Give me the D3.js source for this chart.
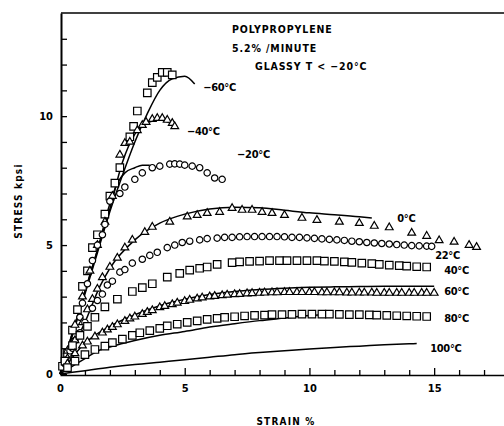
<!DOCTYPE html>
<html>
<head>
<meta charset="utf-8">
<script src="https://cdn.jsdelivr.net/npm/d3@7/dist/d3.min.js"></script>
<style>
  html, body { margin: 0; padding: 0; background: #fff; }
  svg { display: block; }
  text { font-family: "Liberation Sans Narrow", "DejaVu Sans Condensed", "Liberation Sans", sans-serif; font-weight: bold; fill: #000; }
</style>
</head>
<body>
<svg id="chart" width="504" height="426"></svg>
<script>
// Stress–strain data for polypropylene at 5.2 %/min, strain in %, stress in kpsi.

// Measured points, one array per test temperature
const pts_m60 = [[0.1,0.3],[0.3,0.8],[0.5,1.7],[0.7,2.5],[0.9,3.4],[1.1,4.0],[1.3,4.9],[1.5,5.4],[1.8,6.2],[2.0,6.9],[2.2,7.4],[2.4,8.0],[2.8,9.2],[2.95,9.6],[3.1,10.2],[3.5,10.9],[3.7,11.3],[3.9,11.5],[4.1,11.7],[4.3,11.7],[4.5,11.6]];
const pts_m40 = [[0.3,0.9],[0.6,1.9],[0.9,3.0],[1.2,4.0],[1.5,5.0],[1.8,5.9],[2.1,6.9],[2.4,8.5],[2.6,8.95],[2.8,9.0],[3.1,9.45],[3.3,9.65],[3.45,9.77],[3.7,9.88],[3.9,9.92],[4.1,9.92],[4.3,9.85],[4.5,9.73],[4.6,9.6]];
const pts_m20 = [[0.2,0.4],[0.4,0.9],[0.6,1.3],[0.8,2.2],[0.9,2.75],[1.1,3.5],[1.3,4.4],[1.5,5.0],[1.7,5.4],[1.8,5.8],[2.0,6.7],[2.4,7.0],[2.6,7.25],[3.0,7.55],[3.3,7.8],[3.7,8.0],[4.0,8.06],[4.4,8.14],[4.6,8.15],[4.8,8.14],[5.0,8.1],[5.3,8.06],[5.6,8.0],[5.9,7.8],[6.2,7.6],[6.5,7.55]];
const pts_0 = [[0.3,0.6],[0.6,1.3],[0.9,2.0],[1.1,2.5],[1.3,2.9],[1.5,3.3],[1.7,3.75],[2.0,4.15],[2.3,4.5],[2.6,4.9],[2.9,5.2],[3.4,5.5],[3.7,5.7],[4.4,5.9],[5.1,6.1],[5.5,6.16],[5.9,6.24],[6.4,6.28],[6.9,6.43],[7.3,6.36],[7.7,6.36],[8.1,6.28],[8.5,6.24],[9.0,6.16],[9.7,6.05],[10.3,5.97],[11.2,5.9],[12.0,5.85],[12.6,5.74],[13.2,5.68],[14.1,5.47],[14.7,5.35],[15.2,5.18],[15.8,5.12],[16.4,5.0],[16.7,4.92]];
const pts_22 = [[0.2,0.4],[0.5,1.0],[0.8,1.6],[1.0,2.0],[1.3,2.55],[1.5,2.85],[1.7,3.1],[1.9,3.45],[2.1,3.6],[2.4,3.95],[2.6,4.05],[2.9,4.3],[3.3,4.45],[3.6,4.6],[3.9,4.72],[4.3,4.9],[4.6,5.0],[4.9,5.1],[5.2,5.15],[5.6,5.2],[5.9,5.25],[6.3,5.27],[6.6,5.3],[6.9,5.3],[7.2,5.32],[7.5,5.33],[7.8,5.33],[8.1,5.33],[8.4,5.33],[8.7,5.33],[9.0,5.32],[9.3,5.3],[9.6,5.3],[9.9,5.28],[10.2,5.26],[10.5,5.24],[10.8,5.22],[11.1,5.2],[11.4,5.18],[11.7,5.15],[12.0,5.13],[12.3,5.1],[12.6,5.08],[12.9,5.06],[13.2,5.04],[13.5,5.02],[13.8,5.0],[14.1,4.98],[14.4,4.97],[14.7,4.96],[14.9,4.95]];
const pts_40 = [[0.2,0.5],[0.5,1.1],[0.8,1.5],[1.1,1.85],[1.4,2.2],[1.8,2.6],[2.3,2.9],[2.9,3.2],[3.3,3.35],[3.7,3.5],[4.3,3.76],[4.8,3.9],[5.2,4.03],[5.6,4.1],[5.9,4.15],[6.3,4.25],[6.9,4.32],[7.2,4.35],[7.6,4.37],[8.0,4.38],[8.4,4.4],[8.8,4.4],[9.1,4.4],[9.5,4.4],[9.9,4.4],[10.3,4.4],[10.6,4.38],[11.0,4.37],[11.4,4.35],[11.7,4.33],[12.1,4.3],[12.5,4.28],[12.8,4.25],[13.2,4.22],[13.6,4.2],[13.9,4.18],[14.3,4.16],[14.7,4.15]];
const pts_60 = [[0.3,0.4],[0.6,0.8],[0.9,1.1],[1.1,1.25],[1.4,1.45],[1.7,1.6],[1.9,1.72],[2.1,1.82],[2.3,1.92],[2.6,2.05],[2.8,2.15],[3.0,2.22],[3.3,2.32],[3.5,2.4],[3.7,2.47],[4.0,2.58],[4.2,2.63],[4.5,2.7],[4.7,2.76],[5.0,2.82],[5.2,2.87],[5.5,2.92],[5.7,2.96],[6.0,3.0],[6.2,3.02],[6.5,3.05],[6.7,3.07],[7.0,3.09],[7.2,3.1],[7.5,3.12],[7.7,3.13],[8.0,3.14],[8.2,3.15],[8.5,3.16],[8.7,3.16],[9.0,3.17],[9.2,3.17],[9.5,3.17],[9.7,3.17],[10.0,3.17],[10.2,3.17],[10.5,3.16],[10.7,3.16],[11.0,3.16],[11.2,3.16],[11.5,3.15],[11.7,3.15],[12.0,3.15],[12.2,3.15],[12.5,3.15],[12.7,3.14],[13.0,3.14],[13.2,3.14],[13.5,3.14],[13.7,3.14],[14.0,3.14],[14.2,3.14],[14.5,3.14],[14.7,3.14],[15.0,3.14]];
const pts_80 = [[0.3,0.25],[0.6,0.5],[1.0,0.75],[1.4,0.95],[1.8,1.08],[2.1,1.22],[2.5,1.35],[2.9,1.5],[3.2,1.6],[3.6,1.68],[4.0,1.77],[4.3,1.87],[4.7,1.93],[5.1,2.0],[5.5,2.06],[5.9,2.12],[6.3,2.16],[6.6,2.2],[7.0,2.22],[7.4,2.25],[7.8,2.27],[8.2,2.28],[8.5,2.3],[8.9,2.3],[9.3,2.31],[9.7,2.32],[10.1,2.32],[10.5,2.32],[10.8,2.32],[11.2,2.31],[11.6,2.3],[12.0,2.3],[12.4,2.29],[12.7,2.28],[13.1,2.27],[13.5,2.26],[13.9,2.25],[14.3,2.24],[14.7,2.23]];

// Model curves
const fit_m60 = [[0,0],[0.5,1.5],[1,3.1],[1.5,4.7],[2,6.3],[2.5,7.7],[3,9.0],[3.5,10.1],[4,11.0],[4.5,11.45],[5,11.55],[5.4,11.25]];
const fit_m40 = [[0,0],[0.5,1.6],[1,3.2],[1.5,4.8],[2,6.4],[2.5,8.2],[3,9.3],[3.5,9.75],[4,9.85],[4.5,9.7]];
const fit_m20 = [[0,0],[0.5,1.6],[1,3.2],[1.5,4.8],[2,6.6],[2.3,7.4],[2.6,7.8],[3.0,8.0],[3.3,8.1],[3.6,8.1]];
const fit_0 = [[0,0],[0.5,1.0],[1,2.0],[1.6,3.4],[2,4.1],[3,5.2],[4,5.85],[5,6.2],[6,6.4],[7,6.47],[8,6.45],[9,6.35],[10,6.25],[11,6.18],[12,6.1],[12.5,6.05]];
const fit_60 = [[0,0],[1,1.2],[2,1.85],[3,2.3],[4,2.65],[5,2.9],[6,3.08],[7,3.2],[8,3.28],[9,3.33],[10,3.36],[11,3.38],[12,3.39],[13,3.4],[14,3.4],[15,3.4]];
const fit_80 = [[0,0],[1,0.6],[1.6,0.93],[2,1.05],[3,1.3],[4,1.5],[5,1.65],[6,1.82],[7,1.95],[8,2.07],[9,2.17],[10,2.27],[10.5,2.3]];
const fit_100 = [[0,0],[1,0.13],[2,0.26],[3,0.37],[4,0.46],[5,0.55],[6,0.65],[7,0.75],[8,0.83],[9,0.9],[10,0.97],[11,1.03],[12,1.08],[13,1.13],[14,1.17],[14.3,1.18]];

// Temperature labels
const tempLabels = ["\u221260\u00B0C", "\u221240\u00B0C", "\u221220\u00B0C", "0\u00B0C", "22\u00B0C", "40\u00B0C", "60\u00B0C", "80\u00B0C", "100\u00B0C"];

// Axis ticks
const xTickLabels = [0, 5, 10, 15];
const yTickLabels = [0, 5, 10];

const svg = d3.select("#chart");
const x = d3.scaleLinear().domain([0, 17.8]).range([60, 504]);
const y = d3.scaleLinear().domain([0, 14]).range([374, 13]);

// Frame: top rule plus the two axes
svg.append("line").attr("x1", 61).attr("x2", 504).attr("y1", y(14)).attr("y2", y(14))
  .attr("stroke", "#000").attr("stroke-width", 1.3);

const xAxis = d3.axisBottom(x).tickValues(d3.range(0, 18, 1))
  .tickSizeInner(-5).tickSizeOuter(0).tickPadding(9)
  .tickFormat(d => xTickLabels.includes(d) ? d : "");
const gx = svg.append("g").attr("transform", `translate(0,${y(0) + 1})`).call(xAxis);
gx.select(".domain").attr("stroke-width", 1.6);
gx.selectAll(".tick line").attr("stroke-width", 1.3)
  .attr("y2", d => (d % 5 === 0 ? -7 : -5));
gx.selectAll(".tick text").style("font-size", "11px");

const yAxis = d3.axisLeft(y).tickValues(d3.range(0, 14, 1))
  .tickSizeInner(-6).tickSizeOuter(0).tickPadding(8)
  .tickFormat(d => yTickLabels.includes(d) ? d : "");
const gy = svg.append("g").attr("transform", `translate(61,0)`).call(yAxis);
gy.select(".domain").attr("stroke-width", 2);
gy.selectAll(".tick line").attr("stroke-width", 1.3);
gy.selectAll(".tick text").style("font-size", "11px");
svg.selectAll(".domain").attr("stroke", "#000");
svg.selectAll(".tick line").attr("stroke", "#000");

// Axis titles
svg.append("text").attr("x", 286).attr("y", 425).attr("text-anchor", "middle")
  .style("font-size", "10px").style("letter-spacing", "1.2px").text("STRAIN %");
svg.append("text").attr("transform", "translate(22,201) rotate(-90)").attr("text-anchor", "middle")
  .style("font-size", "10px").style("letter-spacing", "1.2px").text("STRESS kpsi");

// Header text
const head = [["POLYPROPYLENE", 232, 33], ["5.2% /MINUTE", 232, 52], ["GLASSY T < \u221220\u00B0C", 255, 69.5]];
svg.selectAll(".head").data(head).join("text").attr("class", "head")
  .attr("x", d => d[1]).attr("y", d => d[2])
  .style("font-size", "10.5px").style("letter-spacing", "0.9px").text(d => d[0]);

// Curves
const line = d3.line().x(d => x(d[0])).y(d => y(d[1])).curve(d3.curveMonotoneX);
[fit_m60, fit_m40, fit_m20, fit_0, fit_60, fit_80, fit_100].forEach(f => {
  svg.append("path").attr("d", line(f)).attr("fill", "none")
    .attr("stroke", "#000").attr("stroke-width", 1.5);
});

// Markers
const sq = d3.symbol().type(d3.symbolSquare).size(56)();
const tri = d3.symbol().type(d3.symbolTriangle).size(26)();
const cir = d3.symbol().type(d3.symbolCircle).size(32)();
const markerSets = [[pts_m60, sq], [pts_m40, tri], [pts_m20, cir], [pts_0, tri], [pts_22, cir], [pts_40, sq], [pts_60, tri], [pts_80, sq]];
markerSets.forEach(([pts, shape]) => {
  svg.append("g").selectAll("path").data(pts).join("path")
    .attr("d", shape)
    .attr("transform", d => `translate(${x(d[0])},${y(d[1])})`)
    .attr("fill", "#fff").attr("stroke", "#000").attr("stroke-width", 1.2);
});

// Temperature labels, anchored in data coordinates
const labelAnchors = [[5.74, 11.12], [5.09, 9.42], [7.1, 8.53], [13.52, 6.05], [15.04, 4.61], [15.4, 4.03], [15.4, 3.22], [15.4, 2.17], [14.84, 1.0]];
svg.selectAll(".tlab").data(tempLabels).join("text").attr("class", "tlab")
  .attr("x", (d, i) => x(labelAnchors[i][0])).attr("y", (d, i) => y(labelAnchors[i][1]))
  .attr("dy", "0.36em").style("font-size", "11px").style("letter-spacing", "-0.3px")
  .text(d => d);
</script>
</body>
</html>
